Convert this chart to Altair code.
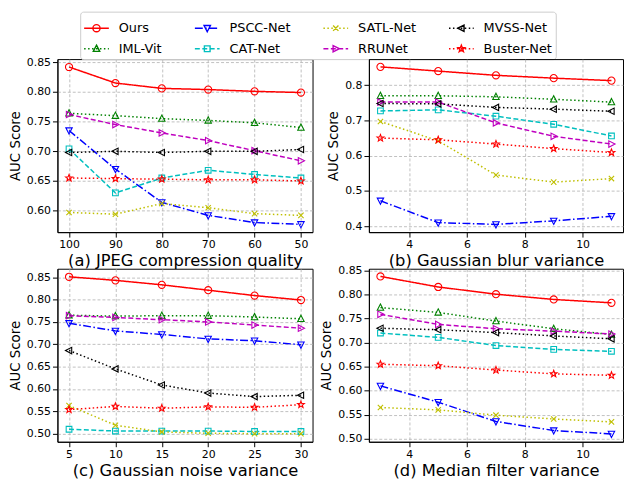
import math
import altair as alt
import pandas as pd

# ---------------- data ----------------
METHODS = ["Ours", "IML-Vit", "PSCC-Net", "CAT-Net", "SATL-Net", "RRUNet", "MVSS-Net", "Buster-Net"]

jpeg_x = [100, 90, 80, 70, 60, 50]
jpeg_ours = [0.842, 0.815, 0.806, 0.804, 0.801, 0.799]
jpeg_iml = [0.764, 0.760, 0.755, 0.752, 0.748, 0.740]
jpeg_pscc = [0.735, 0.670, 0.614, 0.592, 0.580, 0.577]
jpeg_cat = [0.704, 0.630, 0.655, 0.668, 0.661, 0.655]
jpeg_satl = [0.597, 0.594, 0.612, 0.605, 0.595, 0.592]
jpeg_rru = [0.762, 0.745, 0.731, 0.718, 0.701, 0.684]
jpeg_mvss = [0.698, 0.700, 0.698, 0.700, 0.700, 0.703]
jpeg_buster = [0.655, 0.654, 0.653, 0.652, 0.652, 0.650]

blur_x = [3, 5, 7, 9, 11]
blur_ours = [0.852, 0.840, 0.828, 0.820, 0.813]
blur_iml = [0.770, 0.770, 0.767, 0.760, 0.752]
blur_pscc = [0.472, 0.410, 0.405, 0.415, 0.428]
blur_cat = [0.727, 0.730, 0.712, 0.689, 0.656]
blur_satl = [0.697, 0.642, 0.545, 0.525, 0.535]
blur_rru = [0.752, 0.752, 0.693, 0.655, 0.633]
blur_mvss = [0.748, 0.747, 0.737, 0.732, 0.726]
blur_buster = [0.650, 0.645, 0.633, 0.620, 0.609]

noise_x = [5, 10, 15, 20, 25, 30]
noise_ours = [0.851, 0.843, 0.833, 0.821, 0.809, 0.799]
noise_iml = [0.765, 0.763, 0.764, 0.764, 0.761, 0.757]
noise_pscc = [0.747, 0.730, 0.722, 0.712, 0.708, 0.699]
noise_cat = [0.510, 0.506, 0.506, 0.506, 0.505, 0.505]
noise_satl = [0.563, 0.519, 0.504, 0.501, 0.500, 0.500]
noise_rru = [0.764, 0.760, 0.755, 0.750, 0.743, 0.736]
noise_mvss = [0.686, 0.645, 0.609, 0.591, 0.583, 0.586]
noise_buster = [0.554, 0.561, 0.557, 0.560, 0.559, 0.565]

median_x = [3, 5, 7, 9, 11]
median_ours = [0.838, 0.816, 0.801, 0.790, 0.783]
median_iml = [0.773, 0.763, 0.745, 0.729, 0.717]
median_pscc = [0.610, 0.576, 0.536, 0.517, 0.510]
median_cat = [0.720, 0.711, 0.694, 0.686, 0.682]
median_satl = [0.565, 0.560, 0.549, 0.541, 0.535]
median_rru = [0.759, 0.738, 0.729, 0.724, 0.718]
median_mvss = [0.730, 0.727, 0.721, 0.714, 0.708]
median_buster = [0.655, 0.652, 0.643, 0.635, 0.632]

# ---------------- styles ----------------
COLORS = ["#ff0000", "#008000", "#0000ff", "#00bfbf", "#bfbf00", "#bf00bf", "#000000", "#ff0000"]
DOT = [1.5, 2.5]
DASH = [5, 2.5]
DASHDOT = [8, 2.5, 1.5, 2.5]
DASHES = [[1, 0], DOT, DASHDOT, DASH, DOT, DASH, DOT, DOT]
MARKERS = ["circle", "up", "down", "square", "x", "right", "left", "star"]


def marker_path(kind, s):
    def poly(pts):
        return "M" + "L".join(f"{x:.3f},{y:.3f}" for x, y in pts) + "Z"
    if kind == "circle":
        return f"M{s:.3f},0A{s:.3f},{s:.3f},0,1,1,{-s:.3f},0A{s:.3f},{s:.3f},0,1,1,{s:.3f},0Z"
    if kind == "up":
        return poly([(0, -s), (0.9 * s, 0.75 * s), (-0.9 * s, 0.75 * s)])
    if kind == "down":
        return poly([(0, s), (0.9 * s, -0.75 * s), (-0.9 * s, -0.75 * s)])
    if kind == "right":
        return poly([(s, 0), (-0.75 * s, -0.9 * s), (-0.75 * s, 0.9 * s)])
    if kind == "left":
        return poly([(-s, 0), (0.75 * s, -0.9 * s), (0.75 * s, 0.9 * s)])
    if kind == "square":
        h = 0.8 * s
        return poly([(-h, -h), (h, -h), (h, h), (-h, h)])
    if kind == "x":
        h = 0.75 * s
        return f"M{-h:.3f},{-h:.3f}L{h:.3f},{h:.3f}M{-h:.3f},{h:.3f}L{h:.3f},{-h:.3f}"
    if kind == "star":
        pts = []
        for k in range(10):
            r = s if k % 2 == 0 else 0.42 * s
            a = -math.pi / 2 + k * math.pi / 5
            pts.append((r * math.cos(a), r * math.sin(a)))
        return poly(pts)
    return ""


LEG_SIZE = 625                     # legend symbol area -> 25 px wide
LEG_UNIT = math.sqrt(LEG_SIZE) / 2  # px per path unit in the legend symbol


def dash_path(pattern):
    if pattern[1] == 0:
        return "M-1,0H1"
    segs = []
    pos, i, on = -1.0, 0, True
    while pos < 1:
        end = min(pos + pattern[i % len(pattern)] / LEG_UNIT, 1.0)
        if on:
            segs.append(f"M{pos:.3f},0H{end:.3f}")
        pos, on, i = end, not on, i + 1
    return "".join(segs)


PLOT_SHAPES = [marker_path(m, 1.0) for m in MARKERS]
LEG_SHAPES = [dash_path(d) + marker_path(m, 3.6 / LEG_UNIT) for d, m in zip(DASHES, MARKERS)]

color_scale = alt.Scale(domain=METHODS, range=COLORS)
dash_scale = alt.Scale(domain=METHODS, range=DASHES)
shape_scale = alt.Scale(domain=METHODS, range=PLOT_SHAPES)

FONT = "DejaVu Sans"


def long_frame(xs, series):
    rows = []
    for m, vals in zip(METHODS, series):
        for x, v in zip(xs, vals):
            rows.append({"x": x, "Method": m, "AUC": v})
    return pd.DataFrame(rows)


def panel(xs, series, title, xdom, xticks, reverse, ydom, yticks, yfmt, width, with_legend=False):
    df = long_frame(xs, series)
    base = alt.Chart(df)
    x = alt.X("x:Q", title=title,
              scale=alt.Scale(domain=xdom, reverse=reverse, nice=False, zero=False),
              axis=alt.Axis(values=xticks, format="d"))
    y = alt.Y("AUC:Q", title="AUC Score",
              scale=alt.Scale(domain=ydom, nice=False, zero=False),
              axis=alt.Axis(values=yticks, format=yfmt))
    lines = base.mark_line(strokeWidth=1.5, clip=True).encode(
        x=x, y=y,
        color=alt.Color("Method:N", scale=color_scale, legend=None),
        strokeDash=alt.StrokeDash("Method:N", scale=dash_scale, legend=None),
    )
    pts = base.mark_point(filled=False, size=52, strokeWidth=1.1, opacity=1, clip=True).encode(
        x=x, y=y,
        color=alt.Color("Method:N", scale=color_scale, legend=None),
        shape=alt.Shape("Method:N", scale=shape_scale, legend=None),
    )
    layers = [lines, pts]
    if with_legend:
        leg = alt.Legend(
            title=None, orient="none", legendX=23, legendY=-48, columns=4,
            symbolSize=LEG_SIZE, symbolStrokeWidth=1.4, labelFont=FONT, labelFontSize=13,
            labelColor="black", labelOffset=9, columnPadding=30, rowPadding=-3,
            padding=3, strokeColor="#cccccc", fillColor="white", cornerRadius=3,
            labelLimit=300, symbolOpacity=1,
        )
        leg_df = pd.DataFrame({"Legend": METHODS})
        legend_layer = alt.Chart(leg_df).mark_point(
            filled=False, strokeWidth=1.4
        ).encode(
            color=alt.Color("Legend:N", sort=METHODS,
                            scale=alt.Scale(domain=METHODS, range=COLORS),
                            legend=leg),
            shape=alt.Shape("Legend:N", sort=METHODS,
                            scale=alt.Scale(domain=METHODS, range=LEG_SHAPES),
                            legend=leg),
            size=alt.value(0),
        )
        layers.append(legend_layer)
    return alt.layer(*layers).resolve_scale(
        color="independent", shape="independent"
    ).resolve_legend(
        color="independent", shape="independent"
    ).properties(width=width, height=175)


pa = panel(jpeg_x, [jpeg_ours, jpeg_iml, jpeg_pscc, jpeg_cat, jpeg_satl, jpeg_rru, jpeg_mvss, jpeg_buster],
           "(a) JPEG compression quality", [47.5, 102.5], jpeg_x, True,
           [0.5638, 0.8553], [0.60, 0.65, 0.70, 0.75, 0.80, 0.85], ".2f", 258, with_legend=True)
pb = panel(blur_x, [blur_ours, blur_iml, blur_pscc, blur_cat, blur_satl, blur_rru, blur_mvss, blur_buster],
           "(b) Gaussian blur variance", [2.6, 11.4], [4, 6, 8, 10], False,
           [0.383, 0.874], [0.4, 0.5, 0.6, 0.7, 0.8], ".1f", 257)
pc = panel(noise_x, [noise_ours, noise_iml, noise_pscc, noise_cat, noise_satl, noise_rru, noise_mvss, noise_buster],
           "(c) Gaussian noise variance", [3.75, 31.25], noise_x, False,
           [0.482, 0.869], [0.50, 0.55, 0.60, 0.65, 0.70, 0.75, 0.80, 0.85], ".2f", 258)
pd_ = panel(median_x, [median_ours, median_iml, median_pscc, median_cat, median_satl, median_rru, median_mvss, median_buster],
            "(d) Median filter variance", [2.6, 11.4], [4, 6, 8, 10], False,
            [0.4936, 0.854], [0.50, 0.55, 0.60, 0.65, 0.70, 0.75, 0.80, 0.85], ".2f", 257)

chart = alt.concat(
    pa, pb, pc, pd_, columns=2,
    spacing={"row": 37, "column": 57}, bounds="flush",
).properties(padding=0).configure_view(
    stroke="black", strokeWidth=1
).configure_axis(
    labelFont=FONT, labelFontSize=11, labelColor="black", labelPadding=2,
    titleFont=FONT, titleColor="black", titleFontWeight="normal",
    tickColor="black", tickSize=5, tickWidth=1,
    domainColor="black", domainWidth=1,
    gridColor="#b0b0b0", gridDash=[3, 2], gridWidth=0.8,
).configure_axisX(
    titleFontSize=16.5, titlePadding=3, labelAngle=0,
).configure_axisY(
    titleFontSize=13.5, titlePadding=4,
)

chart.save("out.html", embed_options={"renderer": "svg", "actions": False})
